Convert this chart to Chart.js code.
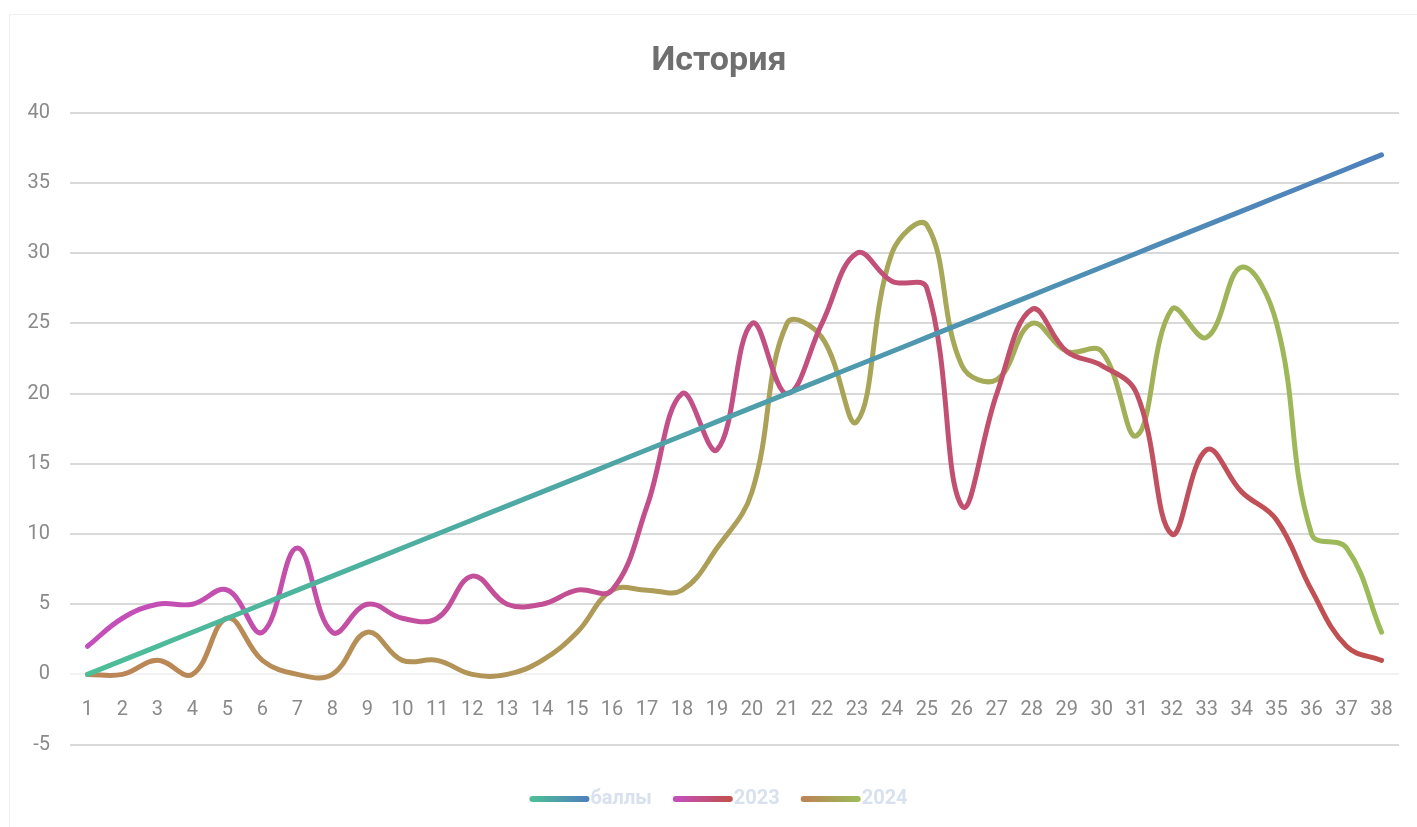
<!DOCTYPE html>
<html>
<head>
<meta charset="utf-8">
<script src="https://cdn.jsdelivr.net/npm/chart.js@4.4.1/dist/chart.umd.min.js"></script>
<style>
  html, body { margin: 0; padding: 0; background: #ffffff; overflow: hidden; }
  #frame { position: absolute; left: 9px; top: 14px; width: 1430px; height: 840px; border: 1px solid #efefef; box-sizing: border-box; }
  #wrap { position: absolute; left: 0; top: 0; width: 1417px; height: 827px; }
</style>
</head>
<body>
<div id="frame"></div>
<div id="wrap"><canvas id="c" width="1417" height="827"></canvas></div>
<script>
const categories = ['1','2','3','4','5','6','7','8','9','10','11','12','13','14','15','16','17','18','19','20','21','22','23','24','25','26','27','28','29','30','31','32','33','34','35','36','37','38'];
const seriesNames = ['баллы', '2023', '2024'];
const ballyValues = [0,1,2,3,4,5,6,7,8,9,10,11,12,13,14,15,16,17,18,19,20,21,22,23,24,25,26,27,28,29,30,31,32,33,34,35,36,37];
const values2023 = [2,4,5,5,6,3,9,3,5,4,4,7,5,5,6,6,12,20,16,25,20,25,30,28,27.5,12,20,26,23,22,20,10,16,13,11,6,2,1];
const values2024 = [0,0,1,0,4,1,0,0,3,1,1,0,0,1,3,6,6,6,9,13,25,24,18,30,32,22,21,25,23,23,17,26,24,29,25,10,9,3];
const yTicks = [40,35,30,25,20,15,10,5,0,-5];
const chartTitle = 'История';

const gradientStops = [
  ['#4dbe97', '#4f81bd'],
  ['#c44fbb', '#c0504d'],
  ['#bc8456', '#9bbb59']
];

function makeGrad(chart, i, x0, x1) {
  const g = chart.ctx.createLinearGradient(x0, 0, x1, 0);
  g.addColorStop(0, gradientStops[i][0]);
  g.addColorStop(1, gradientStops[i][1]);
  return g;
}
function lineColor(i) {
  return (ctx) => {
    const chart = ctx.chart;
    const area = chart.chartArea;
    if (!area) return gradientStops[i][0];
    return makeGrad(chart, i, area.left + 17, area.right - 17);
  };
}

const legendLines = {
  id: 'legendLines',
  afterDraw(chart) {
    const lg = chart.legend;
    if (!lg || !lg.legendHitBoxes) return;
    const c = chart.ctx;
    lg.legendHitBoxes.forEach((hb, i) => {
      const y = hb.top + hb.height / 2;
      const x0 = hb.left + 2, x1 = hb.left + 56;
      c.save();
      c.lineWidth = 6;
      c.lineCap = 'round';
      c.strokeStyle = makeGrad(chart, i, x0, x1);
      c.beginPath();
      c.moveTo(x0, y);
      c.lineTo(x1, y);
      c.stroke();
      c.restore();
    });
  }
};

const data = {
  labels: categories,
  datasets: [ballyValues, values2023, values2024].map((vals, i) => ({
    label: seriesNames[i],
    data: vals,
    borderColor: lineColor(i),
    backgroundColor: 'rgba(0,0,0,0)',
    borderWidth: 5,
    borderCapStyle: 'round',
    borderJoinStyle: 'round',
    pointRadius: 0,
    pointHoverRadius: 0,
    tension: 0.4,
    fill: false
  }))
};

new Chart(document.getElementById('c'), {
  type: 'line',
  data: data,
  plugins: [legendLines],
  options: {
    responsive: false,
    animation: false,
    events: [],
    layout: { padding: { left: 10, right: -11, top: 14, bottom: 8 } },
    plugins: {
      title: {
        display: true,
        text: chartTitle,
        color: '#6f6f6f',
        font: { family: 'Roboto', size: 34, weight: 'bold' },
        padding: { top: 27, bottom: 31 }
      },
      legend: {
        display: true,
        position: 'bottom',
        title: { display: true, text: ' ', font: { size: 12 }, padding: 4 },
        labels: {
          boxWidth: 50,
          boxHeight: 6,
          padding: 22,
          color: '#d9e1ee',
          font: { family: 'Roboto', size: 20, weight: 'bold' },
          generateLabels: (chart) => seriesNames.map((n, i) => ({
            text: n,
            fillStyle: 'rgba(0,0,0,0)',
            strokeStyle: 'rgba(0,0,0,0)',
            lineWidth: 0,
            fontColor: '#d9e1ee',
            datasetIndex: i
          }))
        }
      },
      tooltip: { enabled: false }
    },
    scales: {
      x: {
        type: 'category',
        position: { y: 0 },
        offset: true,
        grid: { display: false, drawTicks: false },
        border: { display: false },
        ticks: {
          color: '#8a8a8a',
          font: { family: 'Roboto', size: 20 },
          padding: 24,
          maxRotation: 0,
          autoSkip: false
        }
      },
      y: {
        min: -5,
        max: 40,
        afterFit: (scale) => { scale.width = 60; },
        afterBuildTicks: (scale) => { scale.ticks = yTicks.slice().reverse().map(v => ({ value: v })); },
        grid: {
          color: (ctx) => (ctx.tick && ctx.tick.value === 0) ? '#f2f2f2' : '#d9d9d9',
          lineWidth: 2,
          drawTicks: false
        },
        border: { display: false },
        ticks: {
          color: '#8a8a8a',
          font: { family: 'Roboto', size: 20 },
          padding: 20
        }
      },
      yPad: {
        position: 'right',
        display: true,
        min: -5,
        max: 40,
        afterFit: (scale) => { scale.width = 28; },
        grid: { display: false, drawTicks: false },
        border: { display: false },
        ticks: { display: false }
      }
    }
  }
});
</script>
</body>
</html>
